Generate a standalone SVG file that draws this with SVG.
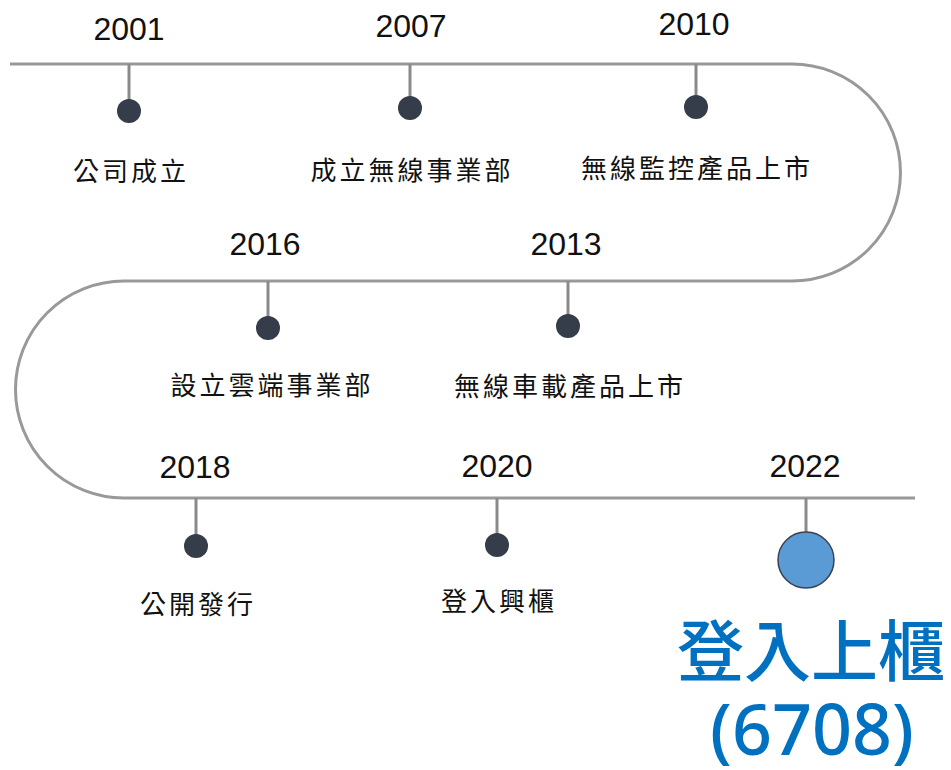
<svg xmlns="http://www.w3.org/2000/svg" width="951" height="770" viewBox="0 0 951 770">
<style>
.track{fill:none;stroke:#999;stroke-width:3}
.stem{stroke:#8a8a8a;stroke-width:3}
.dot{fill:#353c4a}
.yr{font-family:"Liberation Sans",Arial,sans-serif;font-size:32px;fill:#111;text-anchor:middle}
.lb{font-family:"Noto Sans CJK TC","Noto Sans CJK SC",sans-serif;font-size:26px;fill:#111;text-anchor:middle;letter-spacing:3px}
.big{font-family:"Noto Sans CJK TC","Noto Sans CJK SC",sans-serif;font-weight:500;fill:#0070c0;text-anchor:middle}
.num{font-family:"Noto Sans","Liberation Sans",sans-serif;font-weight:500;fill:#0070c0;text-anchor:middle}
</style>
<rect width="951" height="770" fill="#fff"/>
<g id="connectors">
<path class="track" d="M10 64 H792 A108.5 108.5 0 0 1 792 281 H124 A108.5 108.5 0 0 0 124 498 H915"/>
</g>
<g id="n2001"><line class="stem" x1="129" y1="64" x2="129" y2="110"/><circle class="dot" cx="129" cy="111" r="12"/><text class="yr" x="129" y="40">2001</text><text class="lb" x="131" y="181">公司成立</text></g>
<g id="n2007"><line class="stem" x1="410" y1="64" x2="410" y2="108"/><circle class="dot" cx="410" cy="108" r="12"/><text class="yr" x="411" y="37">2007</text><text class="lb" x="412" y="180">成立無線事業部</text></g>
<g id="n2010"><line class="stem" x1="696" y1="64" x2="696" y2="107"/><circle class="dot" cx="696" cy="107" r="12"/><text class="yr" x="694" y="35">2010</text><text class="lb" x="697" y="178">無線監控產品上市</text></g>
<g id="n2013"><line class="stem" x1="568" y1="281" x2="568" y2="326"/><circle class="dot" cx="568" cy="326" r="12"/><text class="yr" x="566" y="255">2013</text><text class="lb" x="570" y="396">無線車載產品上市</text></g>
<g id="n2016"><line class="stem" x1="268" y1="281" x2="268" y2="327"/><circle class="dot" cx="268" cy="328" r="12"/><text class="yr" x="265" y="255">2016</text><text class="lb" x="272" y="395">設立雲端事業部</text></g>
<g id="n2018"><line class="stem" x1="196" y1="498" x2="196" y2="546"/><circle class="dot" cx="196" cy="546" r="12"/><text class="yr" x="195" y="478">2018</text><text class="lb" x="198" y="614">公開發行</text></g>
<g id="n2020"><line class="stem" x1="497" y1="498" x2="497" y2="545"/><circle class="dot" cx="497" cy="545" r="12"/><text class="yr" x="497" y="477">2020</text><text class="lb" x="499" y="611">登入興櫃</text></g>
<g id="n2022"><line class="stem" x1="806" y1="498" x2="806" y2="532"/><circle cx="806" cy="560" r="28" fill="#5b9bd5" stroke="#3a4250" stroke-width="1.5"/><text class="yr" x="805" y="477">2022</text><text class="big" x="811" y="676" font-size="67">登入上櫃</text><text class="num" x="812" y="755" font-size="70">(6708)</text></g>
</svg>
